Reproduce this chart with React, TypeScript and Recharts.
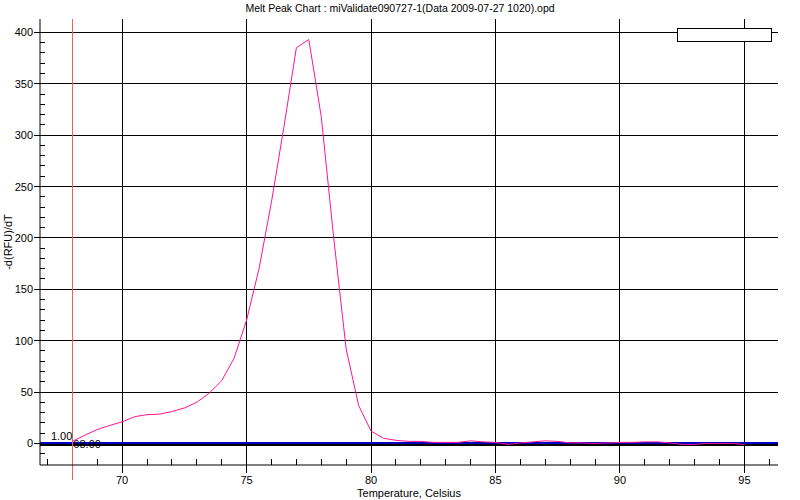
import React from 'react';
import { LineChart, Line, XAxis, YAxis, ReferenceLine, ReferenceArea, Label } from 'recharts';

const temps = [
  68, 68.5, 69, 69.5, 70, 70.5, 71, 71.5, 72, 72.5, 73, 73.5, 74, 74.5, 75, 75.5, 76, 76.5, 77, 77.5,
  78, 78.5, 79, 79.5, 80, 80.5, 81, 81.5, 82, 82.5, 83, 83.5, 84, 84.5, 85, 85.5, 86, 86.5, 87, 87.5,
  88, 88.5, 89, 89.5, 90, 90.5, 91, 91.5, 92, 92.5, 93, 93.5, 94, 94.5, 95,
];
const meltPeak = [
  2, 8, 13.5, 17.5, 21, 26, 28, 28.5, 31, 34.5, 40, 49, 61, 83, 120, 170, 235, 308, 385, 393,
  318, 200, 92, 37, 12, 5, 3, 2, 2, 1, 1, 1, 2.5, 1.5, 1, -1, 0.5, 1.5, 2.5, 2,
  0.5, 0.5, 0, 0.5, 1, 1, 1.5, 1.5, 0.5, -1, -1, 0, 0, 0, -1,
];

const xTicks = [67, 68, 69, 70, 71, 72, 73, 74, 75, 76, 77, 78, 79, 80, 81, 82, 83, 84, 85, 86, 87, 88, 89, 90, 91, 92, 93, 94, 95, 96];
const xMajor = [70, 75, 80, 85, 90, 95];
const yTicks = [-10, 0, 10, 20, 30, 40, 50, 60, 70, 80, 90, 100, 110, 120, 130, 140, 150, 160, 170, 180, 190, 200,
  210, 220, 230, 240, 250, 260, 270, 280, 290, 300, 310, 320, 330, 340, 350, 360, 370, 380, 390, 400];
const yMajor = [0, 50, 100, 150, 200, 250, 300, 350, 400];

const data = temps.map((t, i) => ({ temp: t, value: meltPeak[i] }));

const font = '"Liberation Sans", Arial, sans-serif';

const XTick = (props: any) => {
  const { x, y, payload } = props;
  const v = payload.value;
  if (xMajor.includes(v)) {
    return (
      <g>
        <line x1={x} x2={x} y1={y} y2={y + 8} stroke="#000" shapeRendering="crispEdges" />
        <text x={x} y={y + 18.5} textAnchor="middle" fontSize={11} fontFamily={font} fill="#000">{v}</text>
      </g>
    );
  }
  if (v === 68) return null;
  return <line x1={x} x2={x} y1={y - 6} y2={y} stroke="#000" shapeRendering="crispEdges" />;
};

const YTick = (props: any) => {
  const { x, y, payload } = props;
  const v = payload.value;
  if (yMajor.includes(v)) {
    return (
      <g>
        <line x1={x - 6} x2={x} y1={y} y2={y} stroke="#000" shapeRendering="crispEdges" />
        <text x={x - 7} y={y + 4} textAnchor="end" fontSize={11} fontFamily={font} fill="#000">{v}</text>
      </g>
    );
  }
  return <line x1={x} x2={x + 5} y1={y} y2={y} stroke="#000" shapeRendering="crispEdges" />;
};

const ZeroLine = (p: any) => (
  <g shapeRendering="crispEdges">
    <line x1={p.x1} x2={p.x2} y1={p.y1 + 1.5} y2={p.y2 + 1.5} stroke="#000" strokeWidth={2} />
    <line x1={p.x1} x2={p.x2} y1={p.y1 - 0.5} y2={p.y2 - 0.5} stroke="#0000c0" strokeWidth={1.2} />
  </g>
);

// cursor line at the start temperature, with its readout
const Cursor = (p: any) => {
  const top = Math.min(p.y1, p.y2);
  const bottom = Math.max(p.y1, p.y2);
  return (
    <g>
      <line x1={p.x1 + 0.5} x2={p.x1 + 0.5} y1={top} y2={bottom + 15} stroke="#f06060" strokeWidth={1.2} shapeRendering="crispEdges" />
      <text x={p.x1} y={bottom - 25} textAnchor="end" fontSize={11} fontFamily={font} fill="#000">1.00</text>
      <text x={p.x1 + 1} y={bottom - 17} fontSize={11} fontFamily={font} fill="#000">68.00</text>
    </g>
  );
};

export default function App() {
  return (
    <div style={{ position: 'absolute', left: 0, top: 0, width: 800, height: 500, background: '#fff' }}>
      <div
        style={{
          position: 'absolute', left: 0, top: 2, width: 800, textAlign: 'center',
          fontFamily: font, fontSize: 10.5, color: '#000',
        }}
      >
        Melt Peak Chart : miValidate090727-1(Data 2009-07-27 1020).opd
      </div>
      <LineChart width={800} height={500} data={data} margin={{ top: 19, right: 22, bottom: 0, left: 0 }}>
        <XAxis
          dataKey="temp"
          type="number"
          domain={[66.7, 96.35]}
          ticks={xTicks}
          interval={0}
          tickSize={0}
          tickMargin={0}
          tick={<XTick />}
          height={35}
          axisLine={{ stroke: '#000' }}
        >
          <Label
            content={(p: any) => (
              <text x={p.viewBox.x + p.viewBox.width / 2} y={497} textAnchor="middle" fontSize={11} fontFamily={font} fill="#000">
                Temperature, Celsius
              </text>
            )}
          />
        </XAxis>
        <YAxis
          type="number"
          domain={[-21, 413]}
          ticks={yTicks}
          interval={0}
          tickSize={0}
          tickMargin={0}
          tick={<YTick />}
          width={40}
          axisLine={{ stroke: '#000' }}
        >
          <Label
            content={(p: any) => {
              const cy = p.viewBox.y + p.viewBox.height / 2;
              return (
                <text x={12} y={cy} transform={`rotate(-90, 12, ${cy})`} textAnchor="middle" fontSize={11} fontFamily={font} fill="#000">
                  -d(RFU)/dT
                </text>
              );
            }}
          />
        </YAxis>
        <ReferenceArea fill="none" stroke="#000" strokeWidth={1} shapeRendering="crispEdges" />
        {xMajor.map((v) => (
          <ReferenceLine key={`gx${v}`} x={v} stroke="#000" shapeRendering="crispEdges" />
        ))}
        {yMajor.filter((v) => v !== 0).map((v) => (
          <ReferenceLine key={`gy${v}`} y={v} stroke="#000" shapeRendering="crispEdges" />
        ))}
        <ReferenceLine y={0} shape={ZeroLine} />
        <ReferenceLine x={68} shape={Cursor} />
        <Line
          type="linear"
          dataKey="value"
          stroke="#ff1493"
          strokeWidth={1}
          dot={false}
          isAnimationActive={false}
        />
      </LineChart>
      <div
        style={{
          position: 'absolute', left: 677, top: 28, width: 93, height: 12,
          border: '1px solid #000', background: '#fff',
        }}
      />
    </div>
  );
}
